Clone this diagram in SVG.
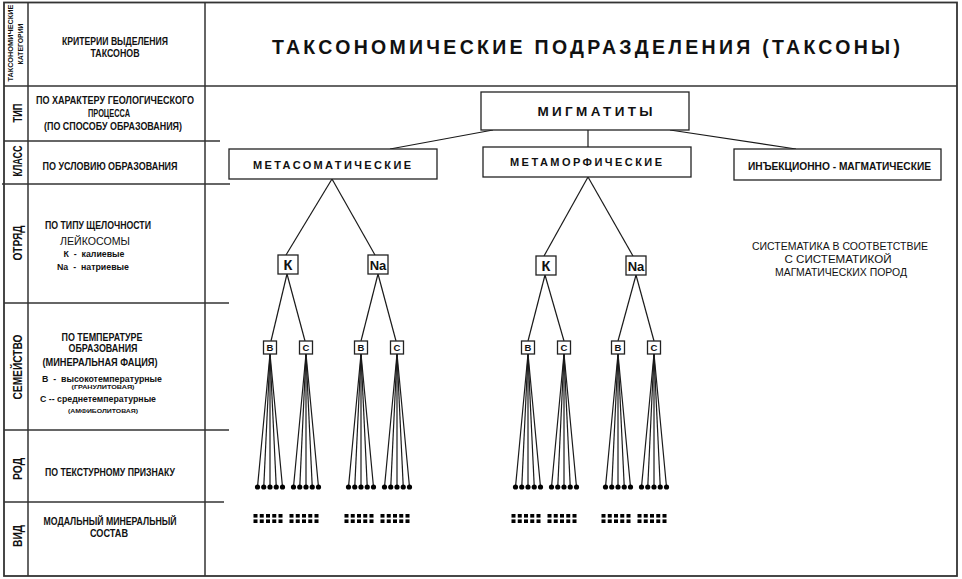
<svg xmlns="http://www.w3.org/2000/svg" width="962" height="579" viewBox="0 0 962 579">
<style>
.fr{fill:none;stroke:#333;stroke-width:1.8}
.gl{stroke:#333;stroke-width:1.5;fill:none}
.ln{stroke:#1a1a1a;stroke-width:1.2;fill:none}
.bx{fill:#fff;stroke:#222;stroke-width:1.3}
.b{font-family:"Liberation Sans Narrow","Liberation Sans",Arial,sans-serif;font-weight:bold;fill:#111;text-anchor:middle}
.r{font-family:"Liberation Sans",Arial,sans-serif;font-weight:normal;fill:#111;text-anchor:middle}
.dot{fill:#000}
.sq{fill:#000}
</style>
<defs>
<g id="fan">
<line class="ln" x1="0" y1="0" x2="-12.5" y2="133"/>
<line class="ln" x1="0" y1="0" x2="-6.25" y2="133"/>
<line class="ln" x1="0" y1="0" x2="0" y2="133"/>
<line class="ln" x1="0" y1="0" x2="6.25" y2="133"/>
<line class="ln" x1="0" y1="0" x2="12.5" y2="133"/>
<circle class="dot" cx="-12.5" cy="133" r="2.6"/>
<circle class="dot" cx="-6.25" cy="133" r="2.6"/>
<circle class="dot" cx="0" cy="133" r="2.6"/>
<circle class="dot" cx="6.25" cy="133" r="2.6"/>
<circle class="dot" cx="12.5" cy="133" r="2.6"/>
</g>
<g id="sqs">
<rect class="sq" x="-16.5" y="0" width="4" height="3.6"/>
<rect class="sq" x="-10.25" y="0" width="4" height="3.6"/>
<rect class="sq" x="-4" y="0" width="4" height="3.6"/>
<rect class="sq" x="2.25" y="0" width="4" height="3.6"/>
<rect class="sq" x="8.5" y="0" width="4" height="3.6"/>
<rect class="sq" x="-16.5" y="5.4" width="4" height="3.6"/>
<rect class="sq" x="-10.25" y="5.4" width="4" height="3.6"/>
<rect class="sq" x="-4" y="5.4" width="4" height="3.6"/>
<rect class="sq" x="2.25" y="5.4" width="4" height="3.6"/>
<rect class="sq" x="8.5" y="5.4" width="4" height="3.6"/>
</g>
</defs>

<g id="table">
<rect class="fr" x="4" y="2.5" width="953" height="573.5"/>
<line class="gl" x1="28" y1="2.5" x2="28" y2="576"/>
<line class="gl" x1="205" y1="2.5" x2="205" y2="576"/>
<line class="gl" x1="4" y1="86" x2="957" y2="86"/>
<line class="gl" x1="4" y1="141" x2="220" y2="141"/>
<line class="gl" x1="2" y1="184" x2="230" y2="184"/>
<line class="gl" x1="4" y1="303" x2="229" y2="303"/>
<line class="gl" x1="4" y1="430" x2="229" y2="430"/>
<line class="gl" x1="4" y1="502" x2="224" y2="502"/>
</g>

<g id="header">
<text class="b" font-size="7" transform="translate(13,43) rotate(-90)" textLength="77" lengthAdjust="spacingAndGlyphs">ТАКСОНОМИЧЕСКИЕ</text>
<text class="b" font-size="7" transform="translate(22.5,44) rotate(-90)" textLength="41" lengthAdjust="spacingAndGlyphs">КАТЕГОРИИ</text>
<text class="b" font-size="10" x="115" y="44.5" textLength="106" lengthAdjust="spacingAndGlyphs">КРИТЕРИИ ВЫДЕЛЕНИЯ</text>
<text class="b" font-size="10" x="115" y="57" textLength="49" lengthAdjust="spacingAndGlyphs">ТАКСОНОВ</text>
<text class="b" font-size="19.5" x="586" y="54" textLength="628" lengthAdjust="spacing">ТАКСОНОМИЧЕСКИЕ ПОДРАЗДЕЛЕНИЯ (ТАКСОНЫ)</text>
</g>

<g id="row-tip">
<text class="b" font-size="12" transform="translate(22,113) rotate(-90)" textLength="19" lengthAdjust="spacingAndGlyphs">ТИП</text>
<text class="b" font-size="10" x="115" y="104" textLength="158" lengthAdjust="spacingAndGlyphs">ПО ХАРАКТЕРУ ГЕОЛОГИЧЕСКОГО</text>
<text class="b" font-size="10" x="109" y="116.5" textLength="42" lengthAdjust="spacingAndGlyphs">ПРОЦЕССА</text>
<text class="b" font-size="10" x="113" y="129.5" textLength="138" lengthAdjust="spacingAndGlyphs">(ПО СПОСОБУ ОБРАЗОВАНИЯ)</text>
</g>

<g id="row-klass">
<text class="b" font-size="12" transform="translate(22,161) rotate(-90)" textLength="31" lengthAdjust="spacingAndGlyphs">КЛАСС</text>
<text class="b" font-size="10" x="110" y="170" textLength="135" lengthAdjust="spacingAndGlyphs">ПО УСЛОВИЮ ОБРАЗОВАНИЯ</text>
</g>

<g id="row-otryad">
<text class="b" font-size="12" transform="translate(22,243) rotate(-90)" textLength="35" lengthAdjust="spacingAndGlyphs">ОТРЯД</text>
<text class="b" font-size="10" x="98" y="229" textLength="106" lengthAdjust="spacingAndGlyphs">ПО ТИПУ ЩЕЛОЧНОСТИ</text>
<text class="r" font-size="10.5" x="95" y="245" textLength="70" lengthAdjust="spacingAndGlyphs">ЛЕЙКОСОМЫ</text>
<text class="b" font-size="9.5" x="94" y="256.5" textLength="61" lengthAdjust="spacingAndGlyphs" xml:space="preserve">К  -  калиевые</text>
<text class="b" font-size="9.5" x="93" y="269.5" textLength="72" lengthAdjust="spacingAndGlyphs" xml:space="preserve">Na  -  натриевые</text>
</g>

<g id="row-semeistvo">
<text class="b" font-size="12" transform="translate(22,367) rotate(-90)" textLength="65" lengthAdjust="spacingAndGlyphs">СЕМЕЙСТВО</text>
<text class="b" font-size="10" x="102" y="340.5" textLength="81" lengthAdjust="spacingAndGlyphs">ПО ТЕМПЕРАТУРЕ</text>
<text class="b" font-size="10" x="103" y="352" textLength="69" lengthAdjust="spacingAndGlyphs">ОБРАЗОВАНИЯ</text>
<text class="b" font-size="10" x="100" y="365.5" textLength="115" lengthAdjust="spacingAndGlyphs">(МИНЕРАЛЬНАЯ ФАЦИЯ)</text>
<text class="b" font-size="9.5" x="102" y="382" textLength="120" lengthAdjust="spacingAndGlyphs" xml:space="preserve">В  -  высокотемпературные</text>
<text class="b" font-size="6" x="103" y="389" textLength="63" lengthAdjust="spacingAndGlyphs">(ГРАНУЛИТОВАЯ)</text>
<text class="b" font-size="9.5" x="98" y="402" textLength="116" lengthAdjust="spacingAndGlyphs">С -- среднетемпературные</text>
<text class="b" font-size="6" x="103" y="412.5" textLength="70" lengthAdjust="spacingAndGlyphs">(АМФИБОЛИТОВАЯ)</text>
</g>

<g id="row-rod">
<text class="b" font-size="12" transform="translate(22,469) rotate(-90)" textLength="22" lengthAdjust="spacingAndGlyphs">РОД</text>
<text class="b" font-size="10" x="110" y="476" textLength="130" lengthAdjust="spacingAndGlyphs">ПО ТЕКСТУРНОМУ ПРИЗНАКУ</text>
</g>

<g id="row-vid">
<text class="b" font-size="12" transform="translate(22,536) rotate(-90)" textLength="22" lengthAdjust="spacingAndGlyphs">ВИД</text>
<text class="b" font-size="10" x="110" y="525" textLength="133" lengthAdjust="spacingAndGlyphs">МОДАЛЬНЫЙ МИНЕРАЛЬНЫЙ</text>
<text class="b" font-size="10" x="109" y="537" textLength="38" lengthAdjust="spacingAndGlyphs">СОСТАВ</text>
</g>

<g id="connectors">
<line class="ln" x1="493" y1="130" x2="390" y2="149"/>
<line class="ln" x1="588" y1="130" x2="588" y2="147"/>
<line class="ln" x1="670" y1="130" x2="796" y2="149"/>
<line class="ln" x1="332" y1="179" x2="286" y2="255"/>
<line class="ln" x1="332" y1="179" x2="375" y2="255"/>
<line class="ln" x1="588" y1="177" x2="544" y2="256"/>
<line class="ln" x1="588" y1="177" x2="633" y2="256"/>
<line class="ln" x1="287" y1="274" x2="271" y2="341"/>
<line class="ln" x1="287" y1="274" x2="305" y2="341"/>
<line class="ln" x1="378" y1="274" x2="361" y2="341"/>
<line class="ln" x1="378" y1="274" x2="396" y2="341"/>
<line class="ln" x1="545" y1="275" x2="528" y2="341"/>
<line class="ln" x1="545" y1="275" x2="564" y2="341"/>
<line class="ln" x1="636" y1="275" x2="618" y2="341"/>
<line class="ln" x1="636" y1="275" x2="654" y2="341"/>
<use href="#fan" x="270" y="354"/>
<use href="#fan" x="306" y="354"/>
<use href="#fan" x="361" y="354"/>
<use href="#fan" x="397" y="354"/>
<use href="#fan" x="528" y="354"/>
<use href="#fan" x="564" y="354"/>
<use href="#fan" x="618" y="354"/>
<use href="#fan" x="654" y="354"/>
</g>

<g id="migmatity">
<rect class="bx" x="481" y="92" width="208" height="38"/>
<text class="b" font-size="13.5" x="595" y="116" textLength="115" lengthAdjust="spacing">МИГМАТИТЫ</text>
</g>
<g id="metasomaticheskie">
<rect class="bx" x="229" y="149" width="208" height="30"/>
<text class="b" font-size="11" x="332" y="169" textLength="158" lengthAdjust="spacing">МЕТАСОМАТИЧЕСКИЕ</text>
</g>
<g id="metamorficheskie">
<rect class="bx" x="483" y="147" width="208" height="30"/>
<text class="b" font-size="11" x="586" y="166" textLength="152" lengthAdjust="spacing">МЕТАМОРФИЧЕСКИЕ</text>
</g>
<g id="inekcionno">
<rect class="bx" x="734" y="149" width="207" height="31"/>
<text class="b" font-size="11" x="839.5" y="169.5" textLength="183" lengthAdjust="spacingAndGlyphs">ИНЪЕКЦИОННО - МАГМАТИЧЕСКИЕ</text>
</g>

<g id="sistematika">
<text class="r" font-size="11" x="840" y="249.5" textLength="176" lengthAdjust="spacingAndGlyphs">СИСТЕМАТИКА В СООТВЕТСТВИЕ</text>
<text class="r" font-size="11" x="838" y="262.5" textLength="107" lengthAdjust="spacingAndGlyphs">С СИСТЕМАТИКОЙ</text>
<text class="r" font-size="11" x="841" y="275.5" textLength="132" lengthAdjust="spacingAndGlyphs">МАГМАТИЧЕСКИХ ПОРОД</text>
</g>

<g id="k1"><rect class="bx" x="278" y="255" width="20" height="19"/><text class="b" font-size="14.5" x="288" y="270">К</text></g>
<g id="na1"><rect class="bx" x="368" y="255" width="20" height="19"/><text class="b" font-size="13" x="378" y="270">Na</text></g>
<g id="k2"><rect class="bx" x="536" y="256" width="20" height="19"/><text class="b" font-size="14.5" x="546" y="271">К</text></g>
<g id="na2"><rect class="bx" x="626" y="256" width="20" height="19"/><text class="b" font-size="13" x="636" y="271">Na</text></g>

<g id="b1"><rect class="bx" x="263.5" y="341" width="13" height="13"/><text class="b" font-size="9.5" x="270" y="351">В</text></g>
<g id="c1"><rect class="bx" x="299.5" y="341" width="13" height="13"/><text class="b" font-size="9.5" x="306" y="351">С</text></g>
<g id="b2"><rect class="bx" x="354.5" y="341" width="13" height="13"/><text class="b" font-size="9.5" x="361" y="351">В</text></g>
<g id="c2"><rect class="bx" x="390.5" y="341" width="13" height="13"/><text class="b" font-size="9.5" x="397" y="351">С</text></g>
<g id="b3"><rect class="bx" x="521.5" y="341" width="13" height="13"/><text class="b" font-size="9.5" x="528" y="351">В</text></g>
<g id="c3"><rect class="bx" x="557.5" y="341" width="13" height="13"/><text class="b" font-size="9.5" x="564" y="351">С</text></g>
<g id="b4"><rect class="bx" x="611.5" y="341" width="13" height="13"/><text class="b" font-size="9.5" x="618" y="351">В</text></g>
<g id="c4"><rect class="bx" x="647.5" y="341" width="13" height="13"/><text class="b" font-size="9.5" x="654" y="351">С</text></g>

<g id="vid-marks">
<use href="#sqs" x="270" y="514"/>
<use href="#sqs" x="306" y="514"/>
<use href="#sqs" x="361" y="514"/>
<use href="#sqs" x="397" y="514"/>
<use href="#sqs" x="528" y="514"/>
<use href="#sqs" x="564" y="514"/>
<use href="#sqs" x="618" y="514"/>
<use href="#sqs" x="654" y="514"/>
</g>
</svg>
